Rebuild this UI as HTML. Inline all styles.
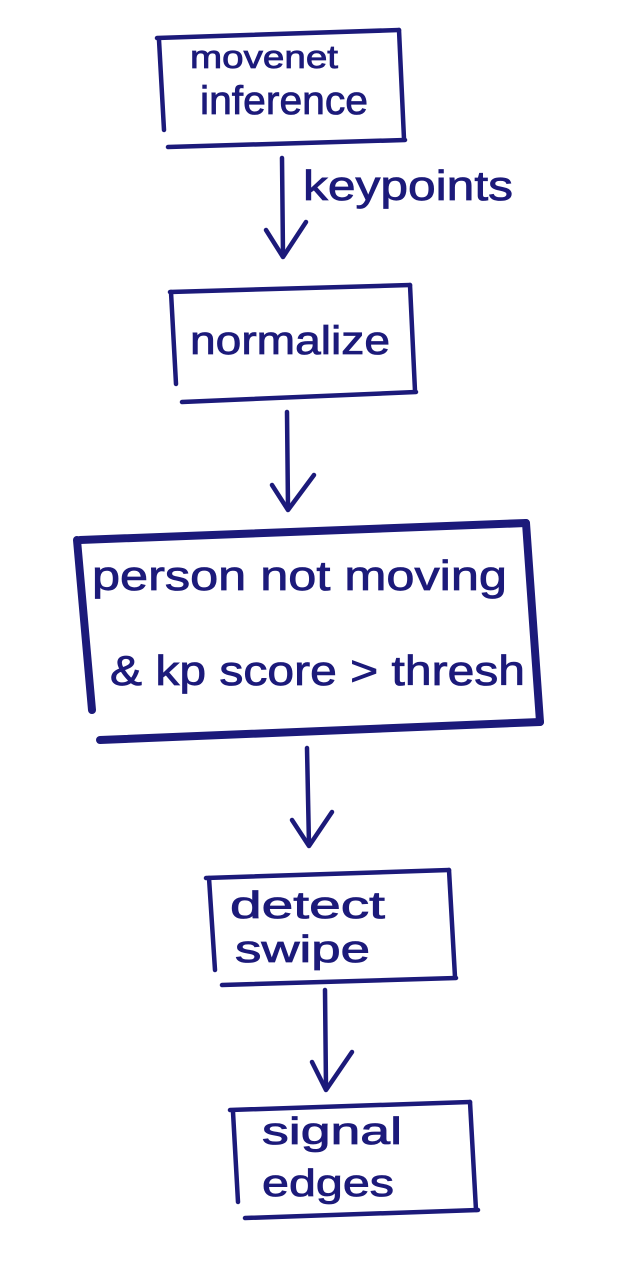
<!DOCTYPE html>
<html><head><meta charset="utf-8"><style>
html,body{margin:0;padding:0;background:#fff;}
svg{display:block}
text{font-family:"Liberation Sans",sans-serif;fill:#1c1a7a;stroke:#1c1a7a;stroke-width:0.8;}
</style></head><body>
<svg width="627" height="1280" viewBox="0 0 627 1280" xmlns="http://www.w3.org/2000/svg">
<g stroke="#1c1a7a" fill="none" stroke-linecap="round" stroke-linejoin="round">
<g stroke-width="4.5">
<path d="M157 38 L399 30"/><path d="M159 40 L164 130"/><path d="M399 30 L404 139"/><path d="M168 147 L405 140"/>
<path d="M282 158 L283 255"/><path d="M266 230 L283 257 L306 222"/>
<path d="M170 292 L410 285"/><path d="M171 292 L176 384"/><path d="M410 285 L415 391"/><path d="M182 402 L416 392"/>
<path d="M287 412 L288 508"/><path d="M272 485 L288 510 L314 475"/>
<path d="M307 748 L309 845"/><path d="M292 820 L309 846 L332 812"/>
<path d="M206 878 L449 870"/><path d="M209 878 L215 970"/><path d="M449 870 L455 977"/><path d="M222 985 L456 978"/>
<path d="M325 990 L326 1088"/><path d="M312 1062 L326 1090 L352 1052"/>
<path d="M230 1110 L470 1102"/><path d="M233 1112 L238 1202"/><path d="M470 1102 L476 1210"/><path d="M245 1218 L478 1210"/>
</g>
<g stroke-width="8">
<path d="M80 540 L526 523"/><path d="M77 540 L92 710"/><path d="M526 523 L540 722"/><path d="M100 740 L540 722"/>
</g>
</g>
<g font-size="38">
<text x="190" y="68" font-size="32" textLength="148" lengthAdjust="spacingAndGlyphs">movenet</text>
<text x="200" y="114" font-size="40" textLength="168" lengthAdjust="spacingAndGlyphs">inference</text>
<text x="303" y="200" font-size="42" textLength="210" lengthAdjust="spacingAndGlyphs">keypoints</text>
<text x="190" y="354" font-size="40" textLength="200" lengthAdjust="spacingAndGlyphs">normalize</text>
<text x="92" y="590" font-size="42" textLength="415" lengthAdjust="spacingAndGlyphs">person   not   moving</text>
<text x="110" y="685" font-size="42" textLength="415" lengthAdjust="spacingAndGlyphs">&amp; kp score &gt; thresh</text>
<text x="230" y="918" font-size="38" textLength="155" lengthAdjust="spacingAndGlyphs">detect</text>
<text x="235" y="962" font-size="38" textLength="135" lengthAdjust="spacingAndGlyphs">swipe</text>
<text x="262" y="1144" font-size="38" textLength="140" lengthAdjust="spacingAndGlyphs">signal</text>
<text x="262" y="1196" font-size="38" textLength="132" lengthAdjust="spacingAndGlyphs">edges</text>
</g>
</svg>
</body></html>
